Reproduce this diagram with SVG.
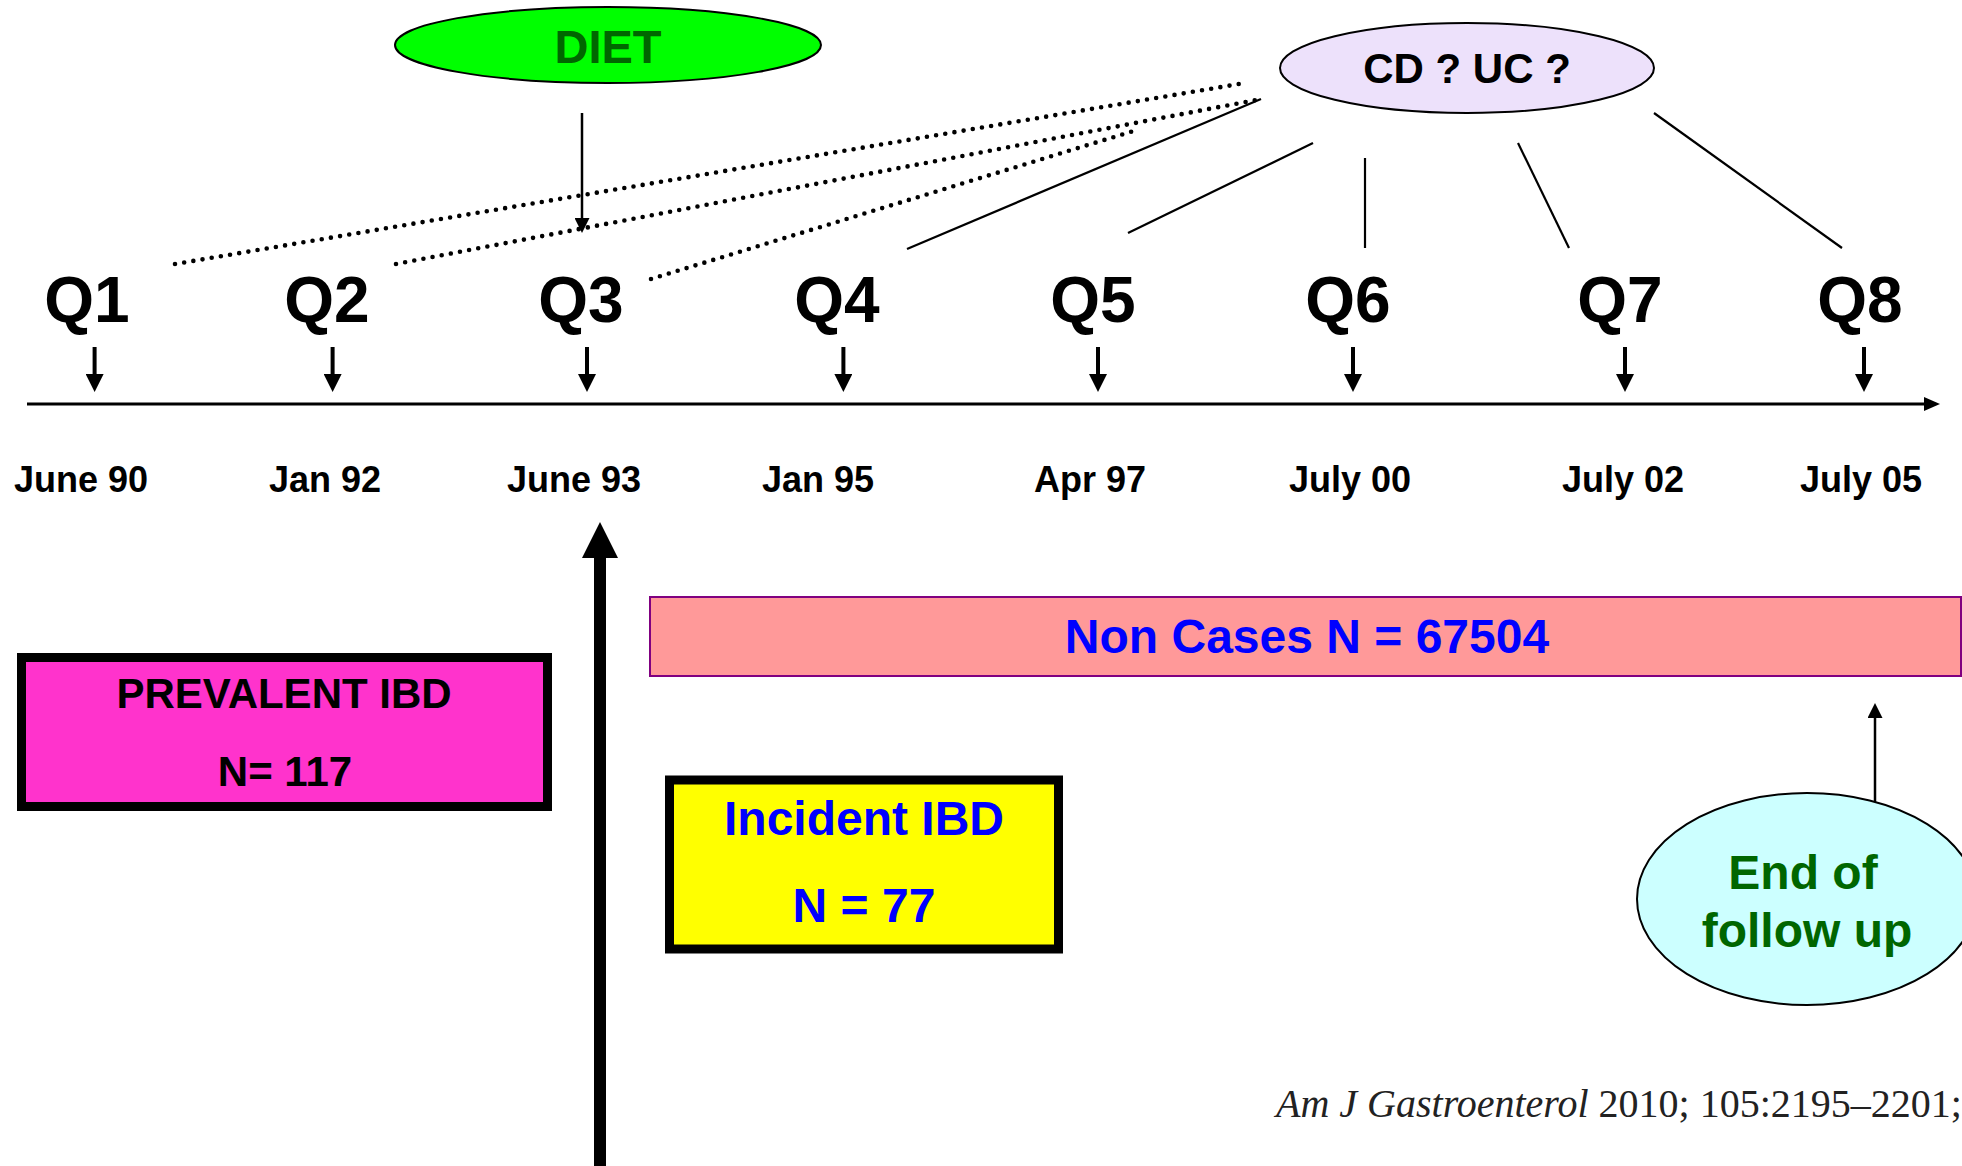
<svg xmlns="http://www.w3.org/2000/svg" width="1962" height="1166" viewBox="0 0 1962 1166">
<style>
.b{font-family:"Liberation Sans",Arial,sans-serif;font-weight:bold;text-anchor:middle}
.q{font-size:64px;fill:#000}
.d{font-size:36px;fill:#000}
.blue{fill:#0000ff}
.grn{fill:#006600}
.dot{stroke:#000;stroke-width:4.6;stroke-linecap:round;stroke-dasharray:0 9.3;fill:none}
.sl{stroke:#000;stroke-width:2.2;fill:none}
.tk{stroke:#000;stroke-width:3;fill:none}
.tq{stroke:#000;stroke-width:4;fill:none}
</style>
<defs>
<marker id="ah" viewBox="0 0 16 16" markerWidth="16" markerHeight="16" refX="6" refY="8" orient="auto" markerUnits="userSpaceOnUse"><path d="M0,1 L16,8 L0,15 z" fill="#000"/></marker>
<marker id="aq" viewBox="0 0 18 18" markerWidth="18" markerHeight="18" refX="4" refY="9" orient="auto" markerUnits="userSpaceOnUse"><path d="M0,0 L18,9 L0,18 z" fill="#000"/></marker>
<marker id="ahs" viewBox="0 0 15 15" markerWidth="15" markerHeight="15" refX="5" refY="7.5" orient="auto" markerUnits="userSpaceOnUse"><path d="M0,0 L15,7.5 L0,15 z" fill="#000"/></marker>
</defs>
<rect width="1962" height="1166" fill="#fff"/>

<g id="connectors">
<line class="dot" x1="175" y1="264" x2="1239" y2="84"/>
<line class="dot" x1="396" y1="264" x2="1261" y2="99"/>
<line class="dot" x1="651" y1="279" x2="1140" y2="129"/>
<line class="sl" x1="907" y1="249" x2="1261" y2="99"/>
<line class="sl" x1="1128" y1="233" x2="1313" y2="143"/>
<line class="sl" x1="1365" y1="158" x2="1365" y2="248"/>
<line class="sl" x1="1518" y1="143" x2="1569" y2="248"/>
<line class="sl" x1="1654" y1="113" x2="1842" y2="248"/>
<line x1="582" y1="113" x2="582" y2="223" stroke="#000" stroke-width="2.5" marker-end="url(#ahs)"/>
<line x1="1875" y1="808" x2="1875" y2="713" stroke="#000" stroke-width="2.5" marker-end="url(#ahs)"/>
<line class="tk" x1="27" y1="404" x2="1930" y2="404" marker-end="url(#ah)"/>
<line class="tq" x1="94.6" y1="347" x2="94.6" y2="378" marker-end="url(#aq)"/>
<line class="tq" x1="332.6" y1="347" x2="332.6" y2="378" marker-end="url(#aq)"/>
<line class="tq" x1="587" y1="347" x2="587" y2="378" marker-end="url(#aq)"/>
<line class="tq" x1="843.4" y1="347" x2="843.4" y2="378" marker-end="url(#aq)"/>
<line class="tq" x1="1098" y1="347" x2="1098" y2="378" marker-end="url(#aq)"/>
<line class="tq" x1="1353" y1="347" x2="1353" y2="378" marker-end="url(#aq)"/>
<line class="tq" x1="1625" y1="347" x2="1625" y2="378" marker-end="url(#aq)"/>
<line class="tq" x1="1864" y1="347" x2="1864" y2="378" marker-end="url(#aq)"/>
<rect x="594" y="554" width="12" height="612" fill="#000"/>
<polygon points="600,522 582,558 618,558" fill="#000"/>
</g>

<g id="diet">
<ellipse cx="608" cy="45" rx="213" ry="38" fill="#00ff00" stroke="#000" stroke-width="2"/>
<text class="b grn" x="608" y="63" font-size="47">DIET</text>
</g>

<g id="cduc">
<ellipse cx="1467" cy="68" rx="187" ry="45" fill="#ede1fb" stroke="#000" stroke-width="2"/>
<text class="b" x="1467" y="83" font-size="42">CD ? UC ?</text>
</g>

<g id="quarters">
<text class="b q" x="87" y="322">Q1</text>
<text class="b q" x="327" y="322">Q2</text>
<text class="b q" x="581" y="322">Q3</text>
<text class="b q" x="837" y="322">Q4</text>
<text class="b q" x="1093" y="322">Q5</text>
<text class="b q" x="1348" y="322">Q6</text>
<text class="b q" x="1620" y="322">Q7</text>
<text class="b q" x="1860" y="322">Q8</text>
</g>

<g id="dates">
<text class="b d" x="81" y="492">June 90</text>
<text class="b d" x="325" y="492">Jan 92</text>
<text class="b d" x="574" y="492">June 93</text>
<text class="b d" x="818" y="492">Jan 95</text>
<text class="b d" x="1090" y="492">Apr 97</text>
<text class="b d" x="1350" y="492">July 00</text>
<text class="b d" x="1623" y="492">July 02</text>
<text class="b d" x="1861" y="492">July 05</text>
</g>

<g id="noncases">
<rect x="650" y="597" width="1311" height="79" fill="#ff9999" stroke="#800080" stroke-width="2"/>
<text class="b blue" x="1307" y="653" font-size="48">Non Cases N = 67504</text>
</g>

<g id="prevalent">
<rect x="21.5" y="657.5" width="526" height="149" fill="#ff33cc" stroke="#000" stroke-width="9"/>
<text class="b" x="284" y="708" font-size="42">PREVALENT IBD</text>
<text class="b" x="285" y="786" font-size="42">N= 117</text>
</g>

<g id="incident">
<rect x="669.5" y="780" width="389" height="169" fill="#ffff00" stroke="#000" stroke-width="9"/>
<text class="b blue" x="864" y="835" font-size="48">Incident IBD</text>
<text class="b blue" x="864" y="922" font-size="48">N = 77</text>
</g>

<g id="endfollow">
<ellipse cx="1807" cy="899" rx="170" ry="106" fill="#ccffff" stroke="#000" stroke-width="2"/>
<text class="b grn" x="1803" y="889" font-size="48">End of</text>
<text class="b grn" x="1807" y="947" font-size="48">follow up</text>
</g>

<text x="1276" y="1117" font-family="'Liberation Serif','Times New Roman',serif" font-size="40" fill="#222"><tspan font-style="italic">Am J Gastroenterol</tspan> 2010; 105:2195–2201;</text>
</svg>
